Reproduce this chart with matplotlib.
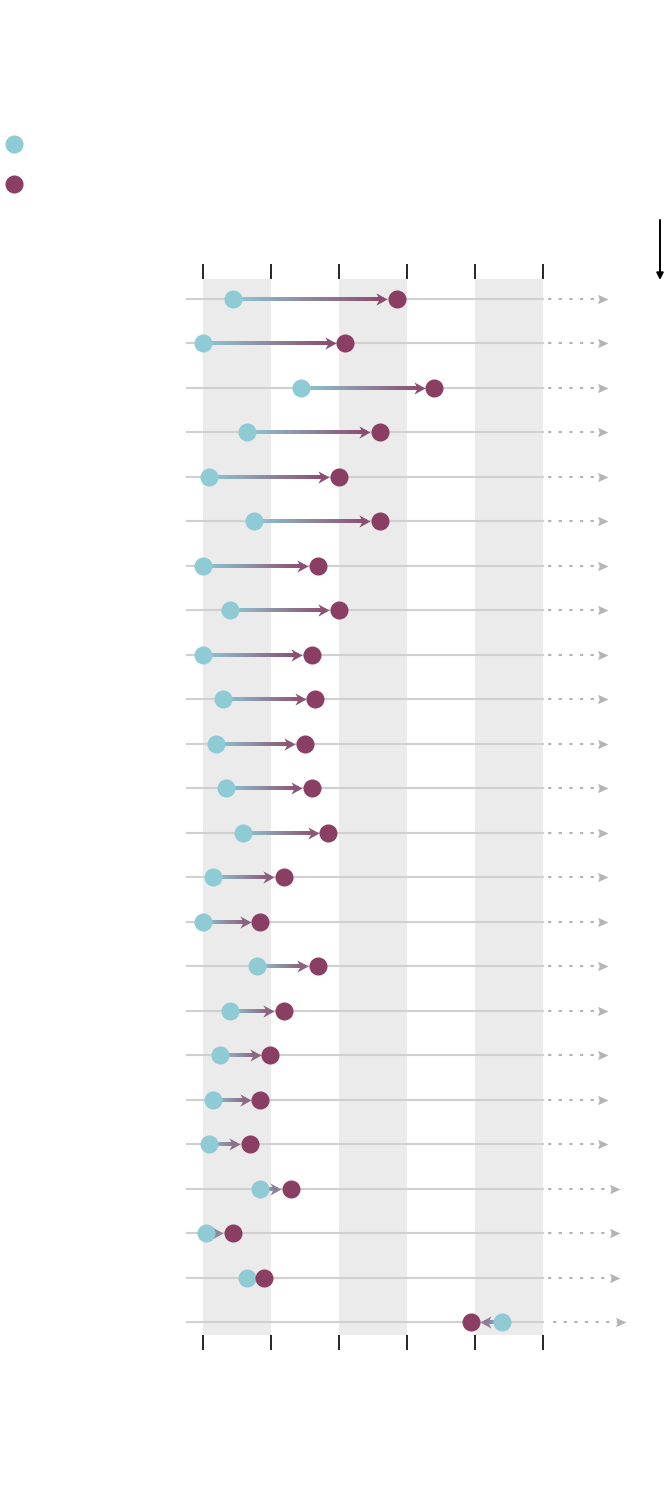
import numpy as np
import matplotlib
matplotlib.use("Agg")
import matplotlib.pyplot as plt
from matplotlib.collections import LineCollection
from matplotlib.colors import to_rgb

# values (x axis 0..50, ticks every 10)
start = [4.4, 0.0, 14.4, 6.5, 0.9, 7.5, 0.0, 4.0, 0.0, 2.9, 1.9, 3.4,
         5.9, 1.5, 0.0, 7.9, 4.0, 2.5, 1.5, 0.9, 8.4, 0.4, 6.5, 44.0]
end = [28.5, 20.9, 34.0, 26.0, 20.0, 26.0, 16.9, 20.0, 16.0, 16.5, 15.0, 16.0,
       18.4, 11.9, 8.4, 16.9, 11.9, 9.9, 8.4, 6.9, 12.9, 4.4, 9.0, 39.4]
ticks = [0, 10, 20, 30, 40, 50]
bands = [(0, 10), (20, 30), (40, 50)]

BLUE = "#8ecbd5"
PURPLE = "#8b3e63"
GRID = "#d0d0d0"
BAND = "#ebebeb"
DOT = "#b5b5b5"

n = len(start)
rows = np.arange(n)

fig = plt.figure(figsize=(6.7, 15.12), dpi=100)
ax = fig.add_axes([203 / 670, 177 / 1512, 340 / 670, 1056 / 1512])
ax.set_xlim(0, 50)
ax.set_ylim(n - 1 + 0.29, -0.45)
for s in ax.spines.values():
    s.set_visible(False)
ax.set_yticks([])
ax.set_xticks(ticks)
ax.set_xticklabels([])
ax.tick_params(axis="x", which="both", top=True, bottom=True, direction="out",
               length=11, width=1.2, color="black")

for a, b in bands:
    ax.axvspan(a, b, color=BAND, lw=0, zorder=0)

# stealth-like arrow head with tip at the origin
head_r = [(0, 0), (-1, 0.55), (-0.7, 0), (-1, -0.55), (0, 0)]
head_l = [(-x, y) for x, y in head_r]
tri_r = [(0, 0), (-1, 0.45), (-0.85, 0), (-1, -0.45), (0, 0)]

c0 = np.array(to_rgb(BLUE))
c1 = np.array(to_rgb(PURPLE))

for i in rows:
    y = i
    # grey baseline
    ax.plot([-2.35, 50], [y, y], color=GRID, lw=1.5, zorder=1, clip_on=False)
    # dotted continuation
    if i < 20:
        d0, d1 = 50.7, 59.6
    elif i < n - 1:
        d0, d1 = 50.7, 61.3
    else:
        d0, d1 = 51.5, 62.2
    ax.plot([d0, d1 - 0.8], [y, y], color=DOT, lw=1.5, dashes=(1.6, 3.5),
            zorder=1, clip_on=False)
    ax.plot([d1], [y], marker=tri_r, ms=15, color=DOT, mec="none",
            zorder=1, clip_on=False)

    s, e = start[i], end[i]
    sign = 1 if e >= s else -1
    tip = e - sign * 1.4
    # gradient shaft from blue center to purple center
    m = 40
    xs = np.linspace(s, tip - sign * 0.8, m + 1)
    segs = [[(xs[k], y), (xs[k + 1], y)] for k in range(m)]
    frac = (0.5 * (xs[:-1] + xs[1:]) - s) / (e - s)
    cols = [tuple(c0 + (c1 - c0) * f) for f in frac]
    ax.add_collection(LineCollection(segs, colors=cols, linewidths=2.8,
                                     zorder=2, capstyle="projecting"))
    fh = min(1.0, max(0.0, (tip - sign * 0.7 - s) / (e - s)))
    hc = tuple(c0 + (c1 - c0) * fh)
    ax.plot([tip], [y], marker=head_r if sign > 0 else head_l, ms=16,
            color=hc, mec="none", zorder=3, clip_on=False)

    ax.plot([s], [y], "o", ms=13, color=BLUE, mec="none", zorder=4, clip_on=False)
    ax.plot([e], [y], "o", ms=13, color=PURPLE, mec="none", zorder=5, clip_on=False)

# legend dots (no text)
fig.add_artist(plt.Line2D([14 / 670], [1 - 144 / 1512], marker="o", ms=13,
                          color=BLUE, mec="none", transform=fig.transFigure))
fig.add_artist(plt.Line2D([14 / 670], [1 - 184 / 1512], marker="o", ms=13,
                          color=PURPLE, mec="none", transform=fig.transFigure))

# black direction arrow on the right
ax.annotate("", xy=(660 / 670, 1 - 280 / 1512), xytext=(660 / 670, 1 - 220 / 1512),
            xycoords="figure fraction", textcoords="figure fraction",
            arrowprops=dict(arrowstyle="-|>", color="black", lw=1.4,
                            mutation_scale=10, shrinkA=0, shrinkB=0))

fig.savefig("out.png", dpi=100)
